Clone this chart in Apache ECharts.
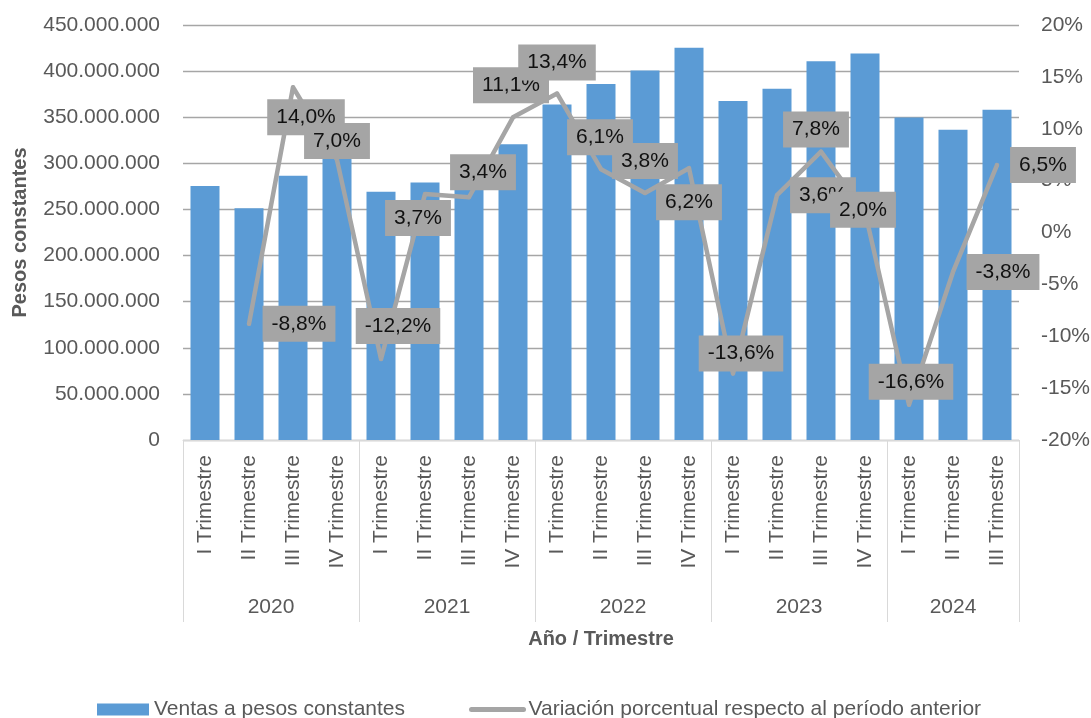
<!DOCTYPE html>
<html>
<head>
<meta charset="utf-8">
<script src="https://cdn.jsdelivr.net/npm/echarts@6/dist/echarts.min.js"></script>
<style>
html,body{margin:0;padding:0;background:#fff;}
#chart{width:1091px;height:718px;}
</style>
</head>
<body>
<div id="chart"></div>
<script>
const quarters = ['I Trimestre','II Trimestre','III Trimestre','IV Trimestre',
  'I Trimestre','II Trimestre','III Trimestre','IV Trimestre',
  'I Trimestre','II Trimestre','III Trimestre','IV Trimestre',
  'I Trimestre','II Trimestre','III Trimestre','IV Trimestre',
  'I Trimestre','II Trimestre','III Trimestre'];
const years = ['2020','2021','2022','2023','2024'];
const quartersPerYear = [4,4,4,4,3];
const ventas = [275500000, 251200000, 286500000, 306700000,
  269300000, 279300000, 288800000, 320800000,
  363900000, 386000000, 400700000, 425400000,
  367700000, 380900000, 410700000, 419200000,
  349600000, 336300000, 358200000];
const variacion = [null, -8.8, 14.0, 7.0,
  -12.2, 3.7, 3.4, 11.1,
  13.4, 6.1, 3.8, 6.2,
  -13.6, 3.6, 7.8, 2.0,
  -16.6, -3.8, 6.5];
const leftTicks = {min: 0, max: 450000000, interval: 50000000};
const rightTicks = {min: -20, max: 20, interval: 5};
const seriesNames = ['Ventas a pesos constantes', 'Variación porcentual respecto al período anterior'];

// label placement offsets (presentation only)
const labelOffsets = [[0,0],[50,0],[13,30],[0,-19],[17,-33],[-7,24],[14,-25],[-2,-32],[0,-31],
  [-1,-32],[0,-32],[0,34],[8,-20],[46,0],[-5,-22],[-2,-2],[2,-23],[50,0],[46,0]];

const boundaries = [0];
quartersPerYear.forEach(n => boundaries.push(boundaries[boundaries.length-1] + n));
const centers = years.map((y,i) => (boundaries[i] + boundaries[i+1]) / 2);

const txt = '#595959';
const fs = 21;
const font = 'Liberation Sans, Arial, sans-serif';

const chart = echarts.init(document.getElementById('chart'), null, {renderer: 'canvas'});
chart.setOption({
  animation: false,
  textStyle: {fontFamily: font},
  grid: {left: 183, right: 72, top: 25, bottom: 278, containLabel: false, outerBoundsMode: 'none'},
  legend: {
    left: 92, top: 694, itemWidth: 52, itemHeight: 12, itemGap: 64,
    textStyle: {color: txt, fontSize: fs, fontFamily: font},
    data: [
      {name: seriesNames[0], icon: 'rect'},
      {name: seriesNames[1], itemStyle: {color: 'rgba(0,0,0,0)', borderWidth: 0},
       lineStyle: {color: '#A5A5A5', width: 5, cap: 'round'}}
    ]
  },
  xAxis: [{
    type: 'category', data: quarters, gridIndex: 0,
    axisLine: {show: true, onZero: false, lineStyle: {color: '#D9D9D9', width: 1}},
    axisTick: {show: false},
    axisLabel: {rotate: 90, margin: 15, color: txt, fontSize: fs, fontFamily: font, interval: 0}
  }, {
    type: 'value', min: 0, max: quarters.length, gridIndex: 0, position: 'bottom',
    axisLine: {show: false, onZero: false},
    splitLine: {show: false},
    axisTick: {show: true, customValues: boundaries, length: 182, inside: false,
      lineStyle: {color: '#D9D9D9', width: 1}},
    axisLabel: {customValues: centers, margin: 157, color: txt, fontSize: fs, fontFamily: font,
      formatter: v => { const i = centers.indexOf(v); return i >= 0 ? years[i] : ''; }},
    name: 'Año / Trimestre', nameLocation: 'middle', nameGap: 189,
    nameTextStyle: {color: txt, fontSize: 20, fontWeight: 'bold', fontFamily: font}
  }],
  yAxis: [{
    type: 'value', min: leftTicks.min, max: leftTicks.max, interval: leftTicks.interval,
    axisLine: {show: false}, axisTick: {show: false},
    splitLine: {show: true, lineStyle: {color: '#A6A6A6', width: 1.3}},
    axisLabel: {margin: 23, color: txt, fontSize: fs, fontFamily: font,
      formatter: v => String(v).replace(/\B(?=(\d{3})+(?!\d))/g, '.')},
    name: 'Pesos constantes', nameLocation: 'middle', nameGap: 153, nameRotate: 90,
    nameTextStyle: {color: txt, fontSize: 20, fontWeight: 'bold', fontFamily: font}
  }, {
    type: 'value', min: rightTicks.min, max: rightTicks.max, interval: rightTicks.interval,
    position: 'right',
    axisLine: {show: false}, axisTick: {show: false}, splitLine: {show: false},
    axisLabel: {margin: 22, color: txt, fontSize: fs, fontFamily: font, formatter: v => v + '%'}
  }],
  series: [{
    name: seriesNames[0], type: 'bar', data: ventas, xAxisIndex: 0, yAxisIndex: 0,
    barWidth: 29, itemStyle: {color: '#5B9BD5'}, z: 2
  }, {
    name: seriesNames[1], type: 'line', xAxisIndex: 0, yAxisIndex: 1,
    data: variacion,
    connectNulls: false,
    symbol: 'circle', symbolSize: 4, itemStyle: {color: '#A5A5A5'},
    lineStyle: {color: '#A5A5A5', width: 4.5, cap: 'round', join: 'round'},
    z: 3,
    label: {
      show: true, position: 'inside',
      formatter: p => p.value.toFixed(1).replace('.', ',') + '%',
      backgroundColor: '#A5A5A5', padding: [7, 9], color: '#111',
      fontSize: fs, lineHeight: 22, fontFamily: font
    },
    labelLayout: p => ({
      dx: labelOffsets[p.dataIndex][0],
      dy: labelOffsets[p.dataIndex][1],
      hideOverlap: false
    })
  }]
});
</script>
</body>
</html>
